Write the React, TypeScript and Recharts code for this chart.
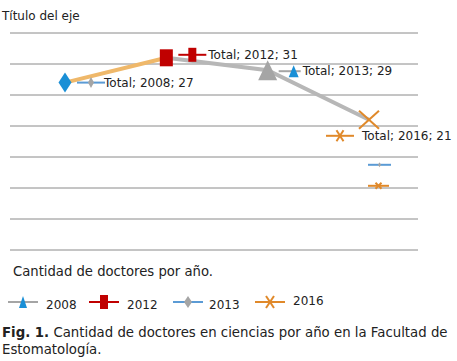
import { ComposedChart, Line, XAxis, YAxis, CartesianGrid, LabelList } from 'recharts'

const years = ['2008', '2012', '2013', '2016']
const totals = [27, 31, 29, 21]
const yTicks = [0, 5, 10, 15, 20, 25, 30, 35]
const seriesName = 'Total'

const FONT = '"DejaVu Sans", Verdana, sans-serif'
const BLUE = '#1a8fd6'
const RED = '#c00000'
const GRAY = '#a5a5a5'
const ORANGE = '#e0892a'
const TAN = '#efb86a'
const LIGHT_BLUE = '#5b9bd5'

type Kind = 'diamond' | 'square' | 'triangle' | 'x'

// legend key styles, as Excel drew them (line colour + marker)
const keys: Record<string, { line: string; kind: Kind; color: string }> = {
  '2008': { line: GRAY, kind: 'triangle', color: BLUE },
  '2012': { line: RED, kind: 'square', color: RED },
  '2013': { line: LIGHT_BLUE, kind: 'diamond', color: GRAY },
  '2016': { line: ORANGE, kind: 'x', color: ORANGE },
}
// the data labels reuse the keys in a shuffled order
const labelKeys = ['2013', '2012', '2008', '2016']
const pointKinds: Kind[] = ['diamond', 'square', 'triangle', 'x']
const pointColors = [BLUE, RED, GRAY, ORANGE]

const data = years.map((year, i) => ({
  year,
  total: totals[i],
  seg1: i <= 1 ? totals[i] : null,
  seg2: i >= 1 ? totals[i] : null,
}))

function Glyph({ kind, cx, cy, w, h, color }: { kind: Kind; cx: number; cy: number; w: number; h: number; color: string }) {
  if (kind === 'diamond')
    return <polygon points={`${cx},${cy - h / 2} ${cx + w / 2},${cy} ${cx},${cy + h / 2} ${cx - w / 2},${cy}`} fill={color} />
  if (kind === 'square') return <rect x={cx - w / 2} y={cy - h / 2} width={w} height={h} fill={color} />
  if (kind === 'triangle')
    return <polygon points={`${cx},${cy - h / 2} ${cx + w / 2},${cy + h / 2} ${cx - w / 2},${cy + h / 2}`} fill={color} />
  return (
    <g stroke={color} strokeWidth={2}>
      <line x1={cx - w / 2} y1={cy - h / 2} x2={cx + w / 2} y2={cy + h / 2} />
      <line x1={cx - w / 2} y1={cy + h / 2} x2={cx + w / 2} y2={cy - h / 2} />
    </g>
  )
}

function KeyMark({ x, y, width, k, mw = 7, mh = 12, mx }: { x: number; y: number; width: number; k: string; mw?: number; mh?: number; mx?: number }) {
  const s = keys[k]
  return (
    <g>
      <line x1={x} y1={y} x2={x + width} y2={y} stroke={s.line} strokeWidth={2} />
      <Glyph kind={s.kind} cx={mx ?? x + width / 2} cy={y} w={mw} h={mh} color={s.color} />
    </g>
  )
}

function renderPoint(props: any) {
  const { cx, cy, index } = props
  const sizes = [
    [13, 20],
    [13, 17],
    [19, 20],
    [20, 18],
  ]
  return (
    <g key={`pt-${index}`}>
      <Glyph kind={pointKinds[index]} cx={cx} cy={cy} w={sizes[index][0]} h={sizes[index][1]} color={pointColors[index]} />
    </g>
  )
}

// label placement per point: key offset, text offset, vertical shift
const labelPlacement = [
  { kx: 12, tx: 39, dy: 0 },
  { kx: 12, tx: 42, dy: -3 },
  { kx: 11, tx: 35, dy: 1 },
  { kx: -43, tx: -7, dy: 16 },
]

function renderLabel(props: any) {
  const { x, y, index, value } = props
  const p = labelPlacement[index]
  const ty = y + p.dy
  const mSize = [
    [6, 11],
    [8, 14],
    [10, 12],
    [7, 11],
  ][index]
  return (
    <g key={`lb-${index}`}>
      <KeyMark
        x={x + p.kx}
        y={ty}
        width={index === 2 ? 22 : 28}
        k={labelKeys[index]}
        mw={mSize[0]}
        mh={mSize[1]}
        mx={index === 2 ? x + p.kx + 15 : undefined}
      />
      <text x={x + p.tx} y={ty} dy={4} fontSize={12} fontFamily={FONT} fill="#222">
        {`${seriesName}; ${years[index]}; ${value}`}
      </text>
      {index === 3 && (
        <g>
          <KeyMark x={x - 1} y={y + 45} width={23} k="2013" mw={3} mh={5} />
          <KeyMark x={x - 1} y={y + 66} width={21} k="2016" mw={6} mh={6} />
        </g>
      )}
    </g>
  )
}

export default function App() {
  return (
    <div style={{ position: 'absolute', left: 0, top: 0, width: 457, height: 361, background: '#fff', fontFamily: FONT, color: '#222' }}>
      <div style={{ position: 'absolute', left: 2, top: 9, fontSize: 12 }}>Título del eje</div>
      <ComposedChart width={457} height={256} data={data} margin={{ top: 33, right: 39, bottom: 6, left: 10 }}>
        <CartesianGrid vertical={false} stroke="#8a8a8a" strokeWidth={1} />
        <XAxis dataKey="year" hide padding={{ left: 55, right: 49 }} />
        <YAxis hide domain={[0, 35]} ticks={yTicks} />
        <Line dataKey="seg1" stroke={TAN} strokeWidth={4} dot={false} isAnimationActive={false} connectNulls={false} />
        <Line dataKey="seg2" stroke="#b7b7b7" strokeWidth={4} dot={false} isAnimationActive={false} connectNulls={false} />
        <Line dataKey="total" stroke="none" dot={renderPoint} activeDot={false} isAnimationActive={false}>
          <LabelList dataKey="total" content={renderLabel} />
        </Line>
      </ComposedChart>
      <div style={{ position: 'absolute', left: 13, top: 264, fontSize: 13.2 }}>Cantidad de doctores por año.</div>
      <div style={{ position: 'absolute', left: 0, top: 292, height: 20, width: 457 }}>
        {years.map((y, i) => {
          const lefts = [8, 89, 173, 255]
          return (
            <div key={y} style={{ position: 'absolute', left: lefts[i], top: 0, display: 'flex', alignItems: 'center' }}>
              <svg width={30} height={20}>
                <KeyMark x={0} y={10} width={30} k={y} mw={8} mh={i === 1 ? 14 : 12} />
              </svg>
              <span style={{ fontSize: 12, marginLeft: i === 2 ? 6 : 8, position: 'relative', top: i === 3 ? -1 : 3 }}>{y}</span>
            </div>
          )
        })}
      </div>
      <div style={{ position: 'absolute', left: 2, top: 324, fontSize: 13.3, lineHeight: '17px', whiteSpace: 'nowrap' }}>
        <div>
          <b>Fig. 1.</b>
          <span> Cantidad de doctores en ciencias por año en la Facultad de</span>
        </div>
        <div>Estomatología.</div>
      </div>
    </div>
  )
}
